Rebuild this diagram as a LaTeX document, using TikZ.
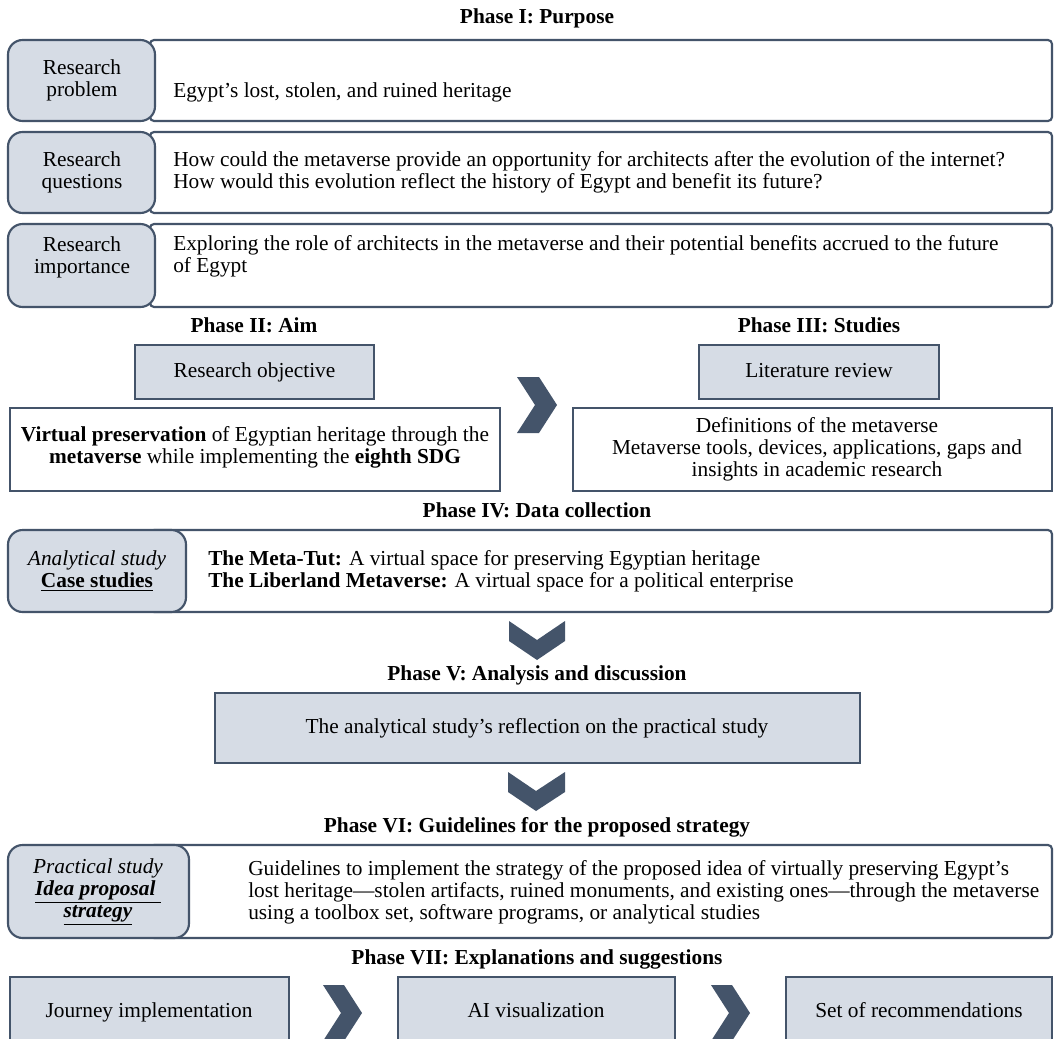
\documentclass[tikz,border=0pt]{standalone}
\usepackage{fontspec}
\setmainfont{Liberation Serif}
\usetikzlibrary{fit}
\definecolor{dk}{RGB}{68,84,106}
\definecolor{lt}{RGB}{214,220,229}
\begin{document}
\begin{tikzpicture}[x=0.75pt,y=-0.75pt,
  every node/.style={font=\fontsize{16}{16.5}\selectfont, inner sep=0pt},
  lbox/.style={draw=dk, fill=lt, line width=1.6pt, rounded corners=11pt, inner sep=0pt},
  wbox/.style={draw=dk, fill=white, line width=1.6pt, rounded corners=3pt, inner sep=0pt},
  sbox/.style={draw=dk, fill=lt, line width=1.6pt, inner sep=0pt},
  obox/.style={draw=dk, fill=white, line width=1.6pt, inner sep=0pt},
  head/.style={font=\fontsize{16}{16.5}\selectfont\bfseries},
  chev/.style={fill=dk, draw=none},
  txt/.style={align=left, anchor=west},
  ctxt/.style={align=center},
  one/.style={anchor=base}
]
\clip (0,0) rectangle (1054,1039);
\fill[white] (0,0) rectangle (1054,1039);

% Phase I
\node[head] (h1) at (537,18) {Phase I: Purpose};

\node[wbox, fit={(150,40) (1052,121)}] (r1w) {};
\node[lbox, fit={(8,40) (155,121)}] (r1l) {};
\node[ctxt] (r1lt) at (82,80) {Research\\problem};
\node[one, anchor=base west] (r1t) at (173,97) {Egypt’s lost, stolen, and ruined heritage};

\node[wbox, fit={(150,132) (1052,213)}] (r2w) {};
\node[lbox, fit={(8,132) (155,213)}] (r2l) {};
\node[ctxt] (r2lt) at (82,172) {Research\\questions};
\node[txt] (r2t) at (173,172) {How could the metaverse provide an opportunity for architects after the evolution of the internet?\\How would this evolution reflect the history of Egypt and benefit its future?};

\node[wbox, fit={(150,224) (1052,307)}] (r3w) {};
\node[lbox, fit={(8,224) (155,307)}] (r3l) {};
\node[ctxt] (r3lt) at (82,257) {Research\\importance};
\node[txt] (r3t) at (173,256) {Exploring the role of architects in the metaverse and their potential benefits accrued to the future\\of Egypt};

% Phase II
\node[head] (h2) at (254,325) {Phase II: Aim};
\node[sbox, fit={(135,345) (374,399)}] (obj) {};
\node[one] (objt) at (254.5,377) {Research objective};
\node[obox, fit={(10,408) (500,491)}] (aim) {};
\node[ctxt] (aimt) at (255,447) {\textbf{Virtual preservation} of Egyptian heritage through the\\\textbf{metaverse} while implementing the \textbf{eighth SDG}};

\fill[chev] (517,377) -- (539,377) -- (557,405) -- (539,433) -- (517,433) -- (535,405) -- cycle;

% Phase III
\node[head] (h3) at (819,325) {Phase III: Studies};
\node[sbox, fit={(699,345) (939,399)}] (lit) {};
\node[one] (litt) at (819,377) {Literature review};
\node[obox, fit={(573,408) (1052,491)}] (stu) {};
\node[ctxt] (stut) at (817,449) {Definitions of the metaverse\\Metaverse tools, devices, applications, gaps and\\insights in academic research};

% Phase IV
\node[head] (h4) at (537,510) {Phase IV: Data collection};
\node[wbox, fit={(150,530) (1052,612)}] (r4w) {};
\node[lbox, fit={(8,530) (186,612)}] (r4l) {};
\node[ctxt] (r4lt) at (97,571) {\textit{Analytical study}\\\textbf{\underline{Case studies}}};
\node[txt] (r4t) at (208,571) {\textbf{The Meta-Tut:} A virtual space for preserving Egyptian heritage\\\textbf{The Liberland Metaverse:} A virtual space for a political enterprise};

\fill[chev] (509,621) -- (537,640) -- (565,621) -- (565,641) -- (537,660) -- (509,641) -- cycle;

% Phase V
\node[head] (h5) at (537,675) {Phase V: Analysis and discussion};
\node[sbox, fit={(215,693) (860,763)}] (ana) {};
\node (anat) at (537,728) {The analytical study’s reflection on the practical study};

\fill[chev] (508,772) -- (536,791) -- (565,772) -- (565,792) -- (536,811) -- (508,792) -- cycle;

% Phase VI
\node[head] (h6) at (537,827) {Phase VI: Guidelines for the proposed strategy};
\node[wbox, fit={(150,845) (1052,938)}] (r6w) {};
\node[lbox, fit={(8,845) (189,938)}] (r6l) {};
\node[ctxt] (r6lt) at (98,892) {\textit{Practical study}\\\textbf{\textit{\underline{Idea proposal }}}\\\textbf{\textit{\underline{strategy}}}};
\node[txt] (r6t) at (248,892) {Guidelines to implement the strategy of the proposed idea of virtually preserving Egypt’s\\lost heritage—stolen artifacts, ruined monuments, and existing ones—through the metaverse\\using a toolbox set, software programs, or analytical studies};

% Phase VII
\node[head] (h7) at (537,959) {Phase VII: Explanations and suggestions};
\node[sbox, fit={(10,977) (289,1052)}] (b1) {};
\node[one] (b1t) at (149,1017) {Journey implementation};
\node[sbox, fit={(398,977) (675,1052)}] (b2) {};
\node[one] (b2t) at (536,1017) {AI visualization};
\node[sbox, fit={(786,977) (1052,1052)}] (b3) {};
\node[one] (b3t) at (919,1017) {Set of recommendations};

\fill[chev] (323,985) -- (344,985) -- (362,1013) -- (344,1041) -- (323,1041) -- (341,1013) -- cycle;
\fill[chev] (711,985) -- (732,985) -- (750,1013) -- (732,1041) -- (711,1041) -- (729,1013) -- cycle;
\end{tikzpicture}
\end{document}
